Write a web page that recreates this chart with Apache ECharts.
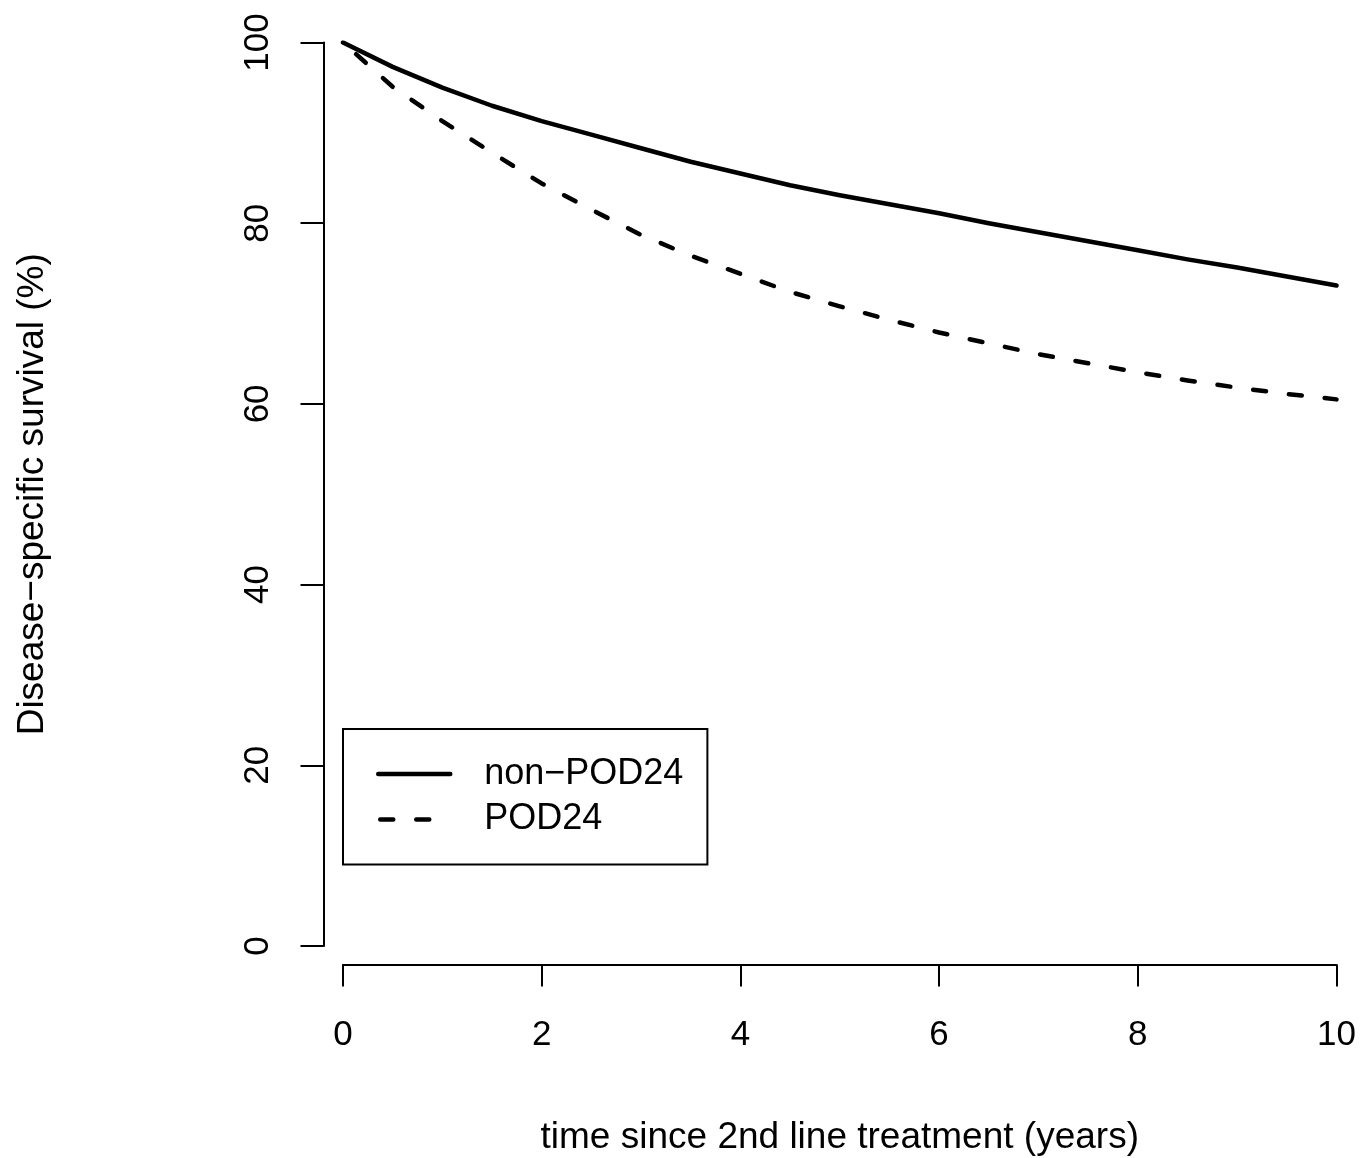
<!DOCTYPE html>
<html>
<head>
<meta charset="utf-8">
<script src="https://cdn.jsdelivr.net/npm/echarts@6/dist/echarts.min.js"></script>
<style>
html,body{margin:0;padding:0;background:#fff;}
#chart{width:1362px;height:1158px;}
</style>
</head>
<body>
<div id="chart"></div>
<script>
const years = [0,0.5,1,1.5,2,2.5,3,3.5,4,4.5,5,5.5,6,6.5,7,7.5,8,8.5,9,9.5,10];
const nonPOD24 = [100,97.3,95.0,93.0,91.3,89.8,88.3,86.8,85.5,84.2,83.1,82.1,81.1,80.0,79.0,78.0,77.0,76.0,75.1,74.1,73.1];
const POD24 = [100,95.1,91.3,87.8,84.4,81.5,78.7,76.4,74.4,72.4,70.8,69.3,67.9,66.7,65.5,64.5,63.5,62.6,61.8,61.1,60.5];
const seriesNames = ['non\u2212POD24','POD24'];
const xTitle = 'time since 2nd line treatment (years)';
const yTitle = 'Disease\u2212specific survival (%)';

const FONT = '"Liberation Sans", Arial, sans-serif';
const pairs = arr => years.map((x,i)=>[x,arr[i]]);

const chart = echarts.init(document.getElementById('chart'));
chart.setOption({
  animation:false,
  backgroundColor:'#fff',
  textStyle:{fontFamily:FONT,color:'#000'},
  grid:{left:343,right:25.5,top:42.5,bottom:212,containLabel:false,outerBoundsMode:'none'},
  xAxis:{
    type:'value',min:0,max:10,interval:2,offset:18.5,
    axisLine:{show:true,onZero:false,lineStyle:{color:'#000',width:2}},
    axisTick:{show:true,inside:false,length:22,lineStyle:{color:'#000',width:2}},
    axisLabel:{color:'#000',fontSize:35,fontFamily:FONT,margin:53},
    splitLine:{show:false},
    name:xTitle,nameLocation:'middle',nameGap:155,
    nameTextStyle:{color:'#000',fontSize:37,fontFamily:FONT}
  },
  yAxis:{
    type:'value',min:0,max:100,interval:20,offset:19.5,
    axisLine:{show:true,onZero:false,lineStyle:{color:'#000',width:2}},
    axisTick:{show:true,inside:false,length:23,lineStyle:{color:'#000',width:2}},
    axisLabel:{color:'#000',fontSize:35,fontFamily:FONT,rotate:90,margin:48,align:'center',verticalAlign:'bottom'},
    splitLine:{show:false},
    name:yTitle,nameLocation:'middle',nameGap:272,
    nameTextStyle:{color:'#000',fontSize:37,fontFamily:FONT}
  },
  legend:{
    orient:'vertical',left:343,top:729,
    padding:[25,24,25,33],
    itemGap:5.5,itemWidth:72,itemHeight:20,
    borderColor:'#000',borderWidth:2,borderRadius:0,
    itemStyle:{opacity:0},
    lineStyle:{width:4.5,cap:'round',dashOffset:-2},
    textStyle:{color:'#000',fontSize:36,fontFamily:FONT,lineHeight:40,padding:[0,0,0,29]},
    data:seriesNames
  },
  series:[
    {name:seriesNames[0],type:'line',data:pairs(nonPOD24),symbol:'none',smooth:false,
     lineStyle:{color:'#000',width:4.5,type:'solid',cap:'round',join:'round'},itemStyle:{color:'#000'}},
    {name:seriesNames[1],type:'line',data:pairs(POD24),symbol:'none',smooth:false,
     lineStyle:{color:'#000',width:4.5,type:[13,23],dashOffset:18.5,cap:'round',join:'round'},itemStyle:{color:'#000'}}
  ]
});
</script>
</body>
</html>
